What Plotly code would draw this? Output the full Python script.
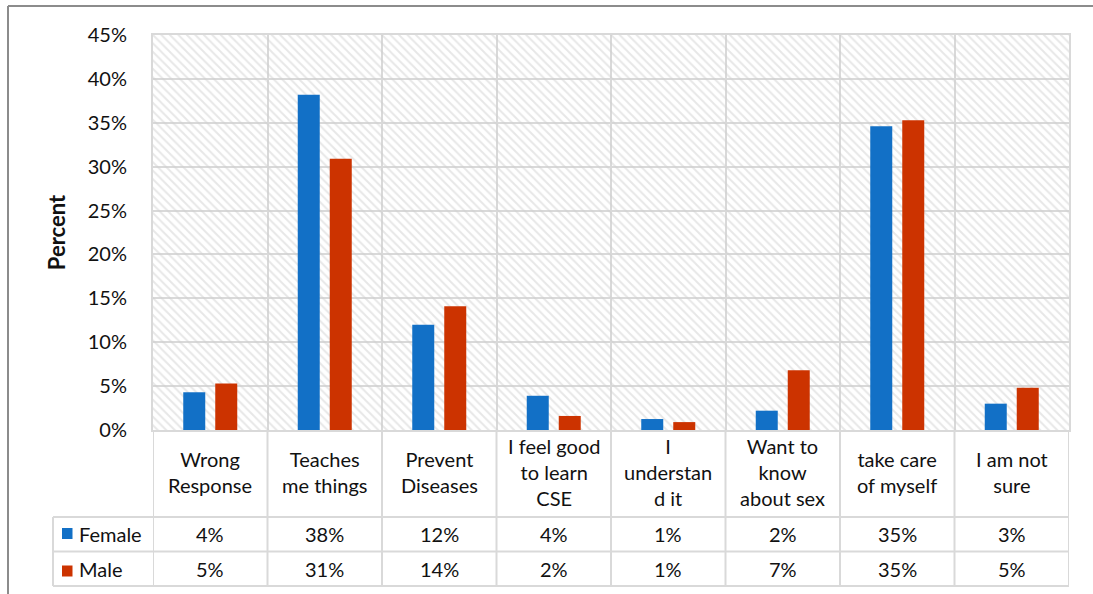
import plotly.graph_objects as go

# ---- data ----
categories = ["Wrong Response", "Teaches me things", "Prevent Diseases",
              "I feel good to learn CSE", "I understand it", "Want to know about sex",
              "take care of myself", "I am not sure"]
category_labels = ["Wrong<br>Response", "Teaches<br>me things", "Prevent<br>Diseases",
                   "I feel good<br>to learn<br>CSE", "I<br>understan<br>d it",
                   "Want to<br>know<br>about sex", "take care<br>of myself", "I am not<br>sure"]
female = [4.3, 38.2, 12.0, 3.9, 1.25, 2.2, 34.6, 3.0]
male = [5.3, 30.9, 14.1, 1.6, 0.9, 6.8, 35.3, 4.8]
series_names = ["Female", "Male"]
y_ticks = [0, 5, 10, 15, 20, 25, 30, 35, 40, 45]
y_tick_labels = [f"{t}%" for t in y_ticks]
y_max = 45

# ---- styling ----
W, H = 1093, 594
L, R, T, B = 153, 24, 35, 164
PW, PH = W - L - R, H - T - B
BLUE, RED = "#1270c6", "#cc3300"
GRID = "#d9d9d9"
FONT = "Lato"
FS = 20
TXT = "#111111"

def py(p):  # pixel y -> paper y
    return (H - B - p) / PH

def px(p):  # pixel x -> paper x
    return (p - L) / PW

xs = list(range(len(categories)))
boundaries = [i - 0.5 for i in range(len(categories) + 1)]

fig = go.Figure()
# hatched plot background
fig.add_trace(go.Bar(x=xs, y=[y_max] * len(xs), width=1.0, offset=-0.5,
                     marker=dict(color="rgba(0,0,0,0)", line=dict(width=0),
                                 pattern=dict(shape="\\", size=6, solidity=0.32,
                                              fgcolor="#cfcfcf", bgcolor="rgba(0,0,0,0)")),
                     hoverinfo="skip", showlegend=False))
bw = 22 / (PW / len(xs))
sep = 16 / (PW / len(xs))
fig.add_trace(go.Bar(x=xs, y=female, name=series_names[0], width=bw, offset=-sep - bw / 2,
                     marker=dict(color=BLUE, line=dict(width=0)), showlegend=False))
fig.add_trace(go.Bar(x=xs, y=male, name=series_names[1], width=bw, offset=sep - bw / 2,
                     marker=dict(color=RED, line=dict(width=0)), showlegend=False))

fig.update_layout(
    width=W, height=H, margin=dict(l=L, r=R, t=T, b=B),
    barmode="overlay", paper_bgcolor="white", plot_bgcolor="white",
    font=dict(family=FONT, size=FS, color=TXT),
    xaxis=dict(range=[-0.5, len(xs) - 0.5], tickvals=boundaries, showticklabels=False,
               showgrid=True, gridcolor=GRID, gridwidth=2,
               ticks="", showline=True, linecolor=GRID, linewidth=2, mirror=True,
               zeroline=False),
    yaxis=dict(range=[0, y_max], tickvals=y_ticks, ticktext=y_tick_labels, showgrid=True,
               gridcolor=GRID, gridwidth=2, zeroline=False, ticks="",
               ticklabelstandoff=20, showline=True, linecolor=GRID, linewidth=2,
               mirror=True,
               title=dict(text="<b>Percent</b>", standoff=16,
                          font=dict(family=FONT, size=22, color=TXT))),
)

shapes = []
line = dict(color=GRID, width=2)
# table vertical lines
for b in boundaries:
    shapes.append(dict(type="line", xref="x", yref="paper", x0=b, x1=b,
                       y0=py(430), y1=py(586), line=line))
shapes.append(dict(type="line", xref="paper", yref="paper", x0=px(53), x1=px(53),
                   y0=py(517), y1=py(586), line=line))
for yy in (517, 551.5, 586):
    shapes.append(dict(type="line", xref="paper", yref="paper", x0=px(53), x1=1,
                       y0=py(yy), y1=py(yy), line=line))
# legend keys
for col, (y0, y1) in zip([BLUE, RED], [(528, 539), (565.5, 576.5)]):
    shapes.append(dict(type="rect", xref="paper", yref="paper", x0=px(62), x1=px(72.5),
                       y0=py(y1), y1=py(y0), fillcolor=col, line=dict(width=0)))
# outer frame
frame = dict(color="#8c8c8c", width=2)
shapes.append(dict(type="line", xref="paper", yref="paper", x0=px(8), x1=px(1093),
                   y0=py(6), y1=py(6), line=frame))
shapes.append(dict(type="line", xref="paper", yref="paper", x0=px(8), x1=px(8),
                   y0=py(6), y1=py(594), line=frame))
fig.update_layout(shapes=shapes)

ann = []
for i, lab in enumerate(category_labels):
    ann.append(dict(x=i, y=py(472), xref="x", yref="paper", text=lab, showarrow=False,
                    xanchor="center", yanchor="middle", align="center",
                    font=dict(family=FONT, size=FS, color=TXT)))
for vals, yc in [(female, 534), (male, 568.5)]:
    for i, v in enumerate(vals):
        ann.append(dict(x=i, y=py(yc), xref="x", yref="paper", text=f"{round(v)}%",
                        showarrow=False, xanchor="center", yanchor="middle",
                        font=dict(family=FONT, size=FS, color=TXT)))
for name, yc in zip(series_names, [534, 568.5]):
    ann.append(dict(x=px(77), y=py(yc), xref="paper", yref="paper", text=name,
                    showarrow=False, xanchor="left", yanchor="middle",
                    font=dict(family=FONT, size=FS, color=TXT)))
fig.update_layout(annotations=ann)

fig.write_html("out.html")
